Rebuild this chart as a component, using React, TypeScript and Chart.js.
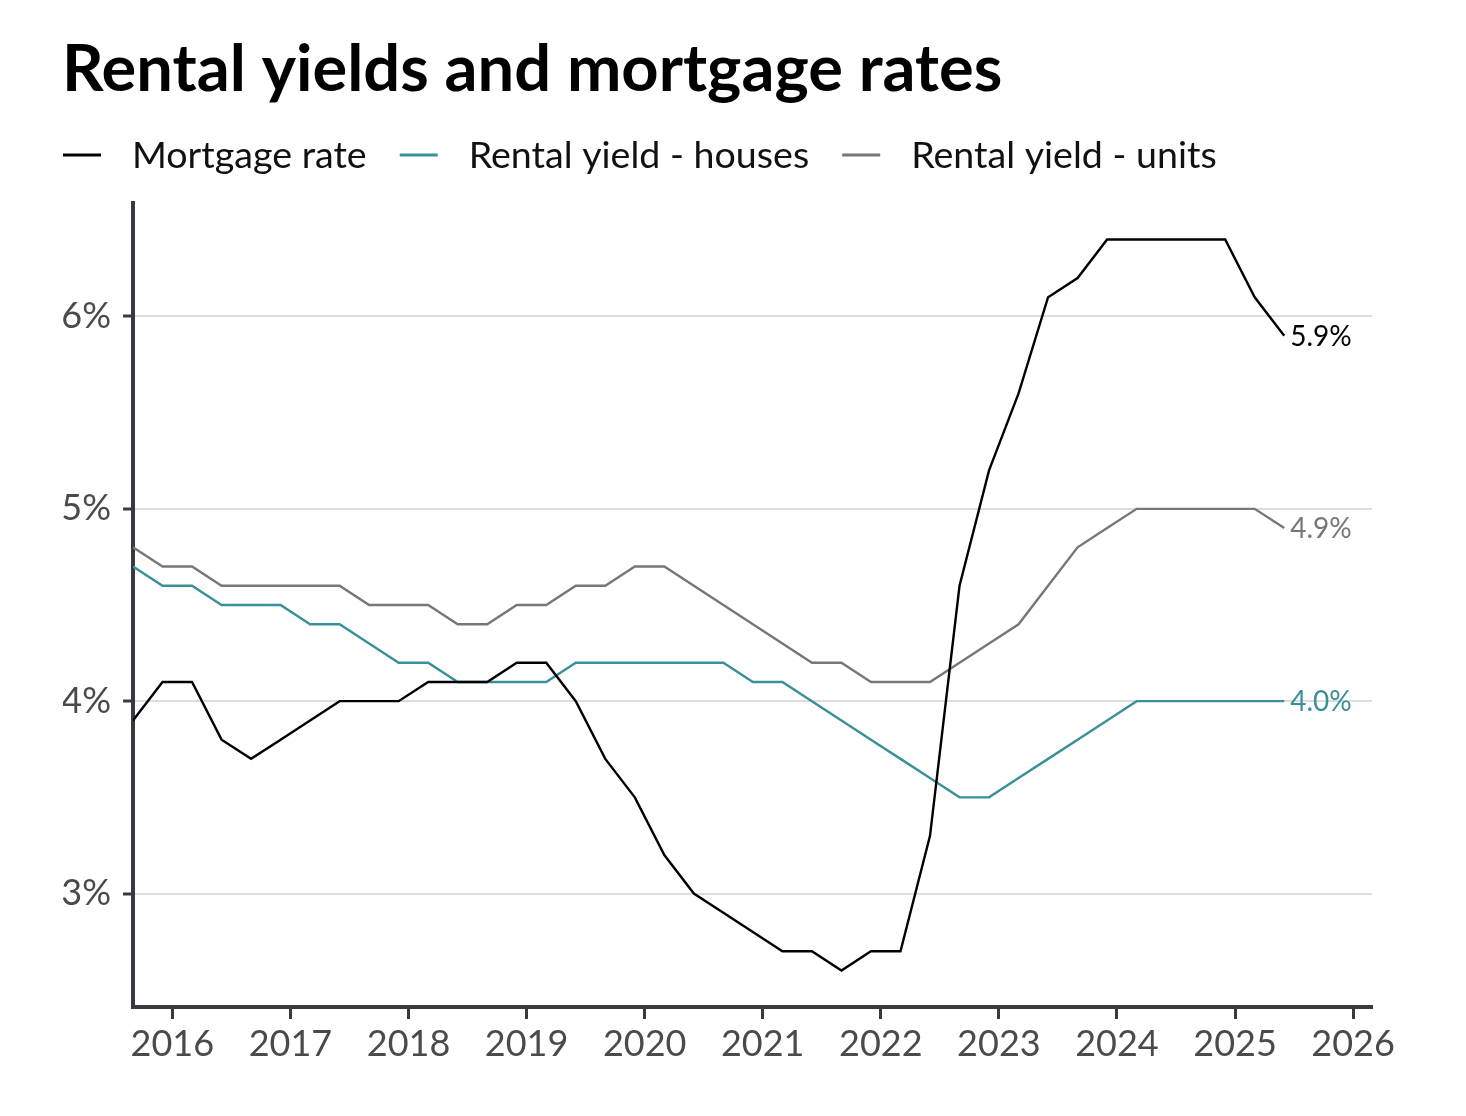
import React, { useEffect, useRef } from 'react';
import { Chart, registerables } from 'chart.js';

Chart.register(...registerables);

const TITLE = 'Rental yields and mortgage rates';

const quarters = [
  '2015-09', '2015-12',
  '2016-03', '2016-06', '2016-09', '2016-12',
  '2017-03', '2017-06', '2017-09', '2017-12',
  '2018-03', '2018-06', '2018-09', '2018-12',
  '2019-03', '2019-06', '2019-09', '2019-12',
  '2020-03', '2020-06', '2020-09', '2020-12',
  '2021-03', '2021-06', '2021-09', '2021-12',
  '2022-03', '2022-06', '2022-09', '2022-12',
  '2023-03', '2023-06', '2023-09', '2023-12',
  '2024-03', '2024-06', '2024-09', '2024-12',
  '2025-03', '2025-06',
];

const mortgageRate = [
  3.9, 4.1, 4.1, 3.8, 3.7, 3.8, 3.9, 4.0, 4.0, 4.0,
  4.1, 4.1, 4.1, 4.2, 4.2, 4.0, 3.7, 3.5, 3.2, 3.0,
  2.9, 2.8, 2.7, 2.7, 2.6, 2.7, 2.7, 3.3, 4.6, 5.2,
  5.6, 6.1, 6.2, 6.4, 6.4, 6.4, 6.4, 6.4, 6.1, 5.9,
];

const yieldHouses = [
  4.7, 4.6, 4.6, 4.5, 4.5, 4.5, 4.4, 4.4, 4.3, 4.2,
  4.2, 4.1, 4.1, 4.1, 4.1, 4.2, 4.2, 4.2, 4.2, 4.2,
  4.2, 4.1, 4.1, 4.0, 3.9, 3.8, 3.7, 3.6, 3.5, 3.5,
  3.6, 3.7, 3.8, 3.9, 4.0, 4.0, 4.0, 4.0, 4.0, 4.0,
];

const yieldUnits = [
  4.8, 4.7, 4.7, 4.6, 4.6, 4.6, 4.6, 4.6, 4.5, 4.5,
  4.5, 4.4, 4.4, 4.5, 4.5, 4.6, 4.6, 4.7, 4.7, 4.6,
  4.5, 4.4, 4.3, 4.2, 4.2, 4.1, 4.1, 4.1, 4.2, 4.3,
  4.4, 4.6, 4.8, 4.9, 5.0, 5.0, 5.0, 5.0, 5.0, 4.9,
];

const yearTicks = [2016, 2017, 2018, 2019, 2020, 2021, 2022, 2023, 2024, 2025, 2026];
const percentTicks = [3, 4, 5, 6];
const seriesNames = ['Mortgage rate', 'Rental yield - houses', 'Rental yield - units'];
const seriesColors = ['#000000', '#3a9099', '#777777'];

const FONT = 'Lato, "Noto Sans", sans-serif';
const AXIS = '#3a3840';
const TICK_TEXT = '#4a4a4a';

const toYear = (q: string) => {
  const [y, m] = q.split('-').map(Number);
  return y + (m - 1) / 12;
};

const toPoints = (vals: number[]) => vals.map((v, i) => ({ x: toYear(quarters[i]), y: v }));

const headerPlugin = {
  id: 'header',
  afterDraw(chart: any) {
    const ctx = chart.ctx as CanvasRenderingContext2D;
    ctx.save();
    ctx.textAlign = 'left';
    ctx.textBaseline = 'alphabetic';
    ctx.fillStyle = '#000';
    ctx.font = `bold 65px ${FONT}`;
    ctx.fillText(TITLE, 54, 83);

    ctx.font = `37.6px ${FONT}`;
    let x = 55;
    const lineY = 147;
    chart.data.datasets.forEach((ds: any) => {
      ctx.strokeStyle = ds.borderColor;
      ctx.lineWidth = 3;
      ctx.beginPath();
      ctx.moveTo(x, lineY);
      ctx.lineTo(x + 38, lineY);
      ctx.stroke();
      x += 38 + 31;
      ctx.fillStyle = '#111';
      ctx.fillText(ds.label, x, 160);
      x += ctx.measureText(ds.label).width + 33;
    });
    ctx.restore();
  },
};

const endLabelPlugin = {
  id: 'endLabels',
  afterDatasetsDraw(chart: any) {
    const ctx = chart.ctx as CanvasRenderingContext2D;
    ctx.save();
    ctx.font = `28px ${FONT}`;
    ctx.textAlign = 'left';
    ctx.textBaseline = 'middle';
    chart.data.datasets.forEach((ds: any, i: number) => {
      const meta = chart.getDatasetMeta(i);
      const last = meta.data[meta.data.length - 1];
      const val = ds.data[ds.data.length - 1].y;
      ctx.fillStyle = ds.borderColor;
      ctx.fillText(`${val.toFixed(1)}%`, last.x + 6, last.y + 1);
    });
    ctx.restore();
  },
};

export default function App() {
  const ref = useRef<HTMLCanvasElement | null>(null);

  useEffect(() => {
    if (!ref.current) return;
    const chart = new Chart(ref.current, {
      type: 'line',
      data: {
        datasets: [mortgageRate, yieldHouses, yieldUnits].map((vals, i) => ({
          label: seriesNames[i],
          data: toPoints(vals),
          borderColor: seriesColors[i],
          backgroundColor: seriesColors[i],
          borderWidth: 2.4,
          pointRadius: 0,
          tension: 0,
          fill: false,
        })),
      },
      options: {
        animation: false,
        responsive: true,
        maintainAspectRatio: false,
        layout: { padding: { left: 55, right: 86, top: 195, bottom: 0 } },
        plugins: {
          legend: { display: false },
          title: { display: false },
          tooltip: { enabled: false },
        },
        scales: {
          x: {
            type: 'linear',
            min: toYear(quarters[0]),
            max: 2026.16,
            afterBuildTicks: (s: any) => {
              s.ticks = yearTicks.map((v) => ({ value: v }));
            },
            afterFit: (s: any) => {
              s.height = 101;
            },
            grid: {
              drawOnChartArea: false,
              drawTicks: true,
              tickLength: 12,
              tickColor: AXIS,
              tickWidth: 3,
            },
            border: { display: true, color: AXIS, width: 4 },
            ticks: {
              color: TICK_TEXT,
              font: { size: 36, family: FONT },
              padding: 4,
              maxRotation: 0,
              autoSkip: false,
              callback: (v: any) => String(v),
            },
          },
          y: {
            min: 2.41,
            max: 6.59,
            afterBuildTicks: (s: any) => {
              s.ticks = percentTicks.map((v) => ({ value: v }));
            },
            afterFit: (s: any) => {
              s.width = 70;
            },
            grid: {
              color: '#dddddd',
              lineWidth: 2,
              drawTicks: true,
              tickLength: 10,
              tickColor: AXIS,
              tickWidth: 3,
            },
            border: { display: true, color: AXIS, width: 4 },
            ticks: {
              color: TICK_TEXT,
              font: { size: 36, family: FONT },
              padding: 12,
              callback: (v: any) => `${v}%`,
            },
          },
        },
      },
      plugins: [headerPlugin, endLabelPlugin],
    });
    return () => chart.destroy();
  }, []);

  return (
    <div style={{ position: 'relative', width: 1450, height: 1100 }}>
      <canvas ref={ref} />
    </div>
  );
}
